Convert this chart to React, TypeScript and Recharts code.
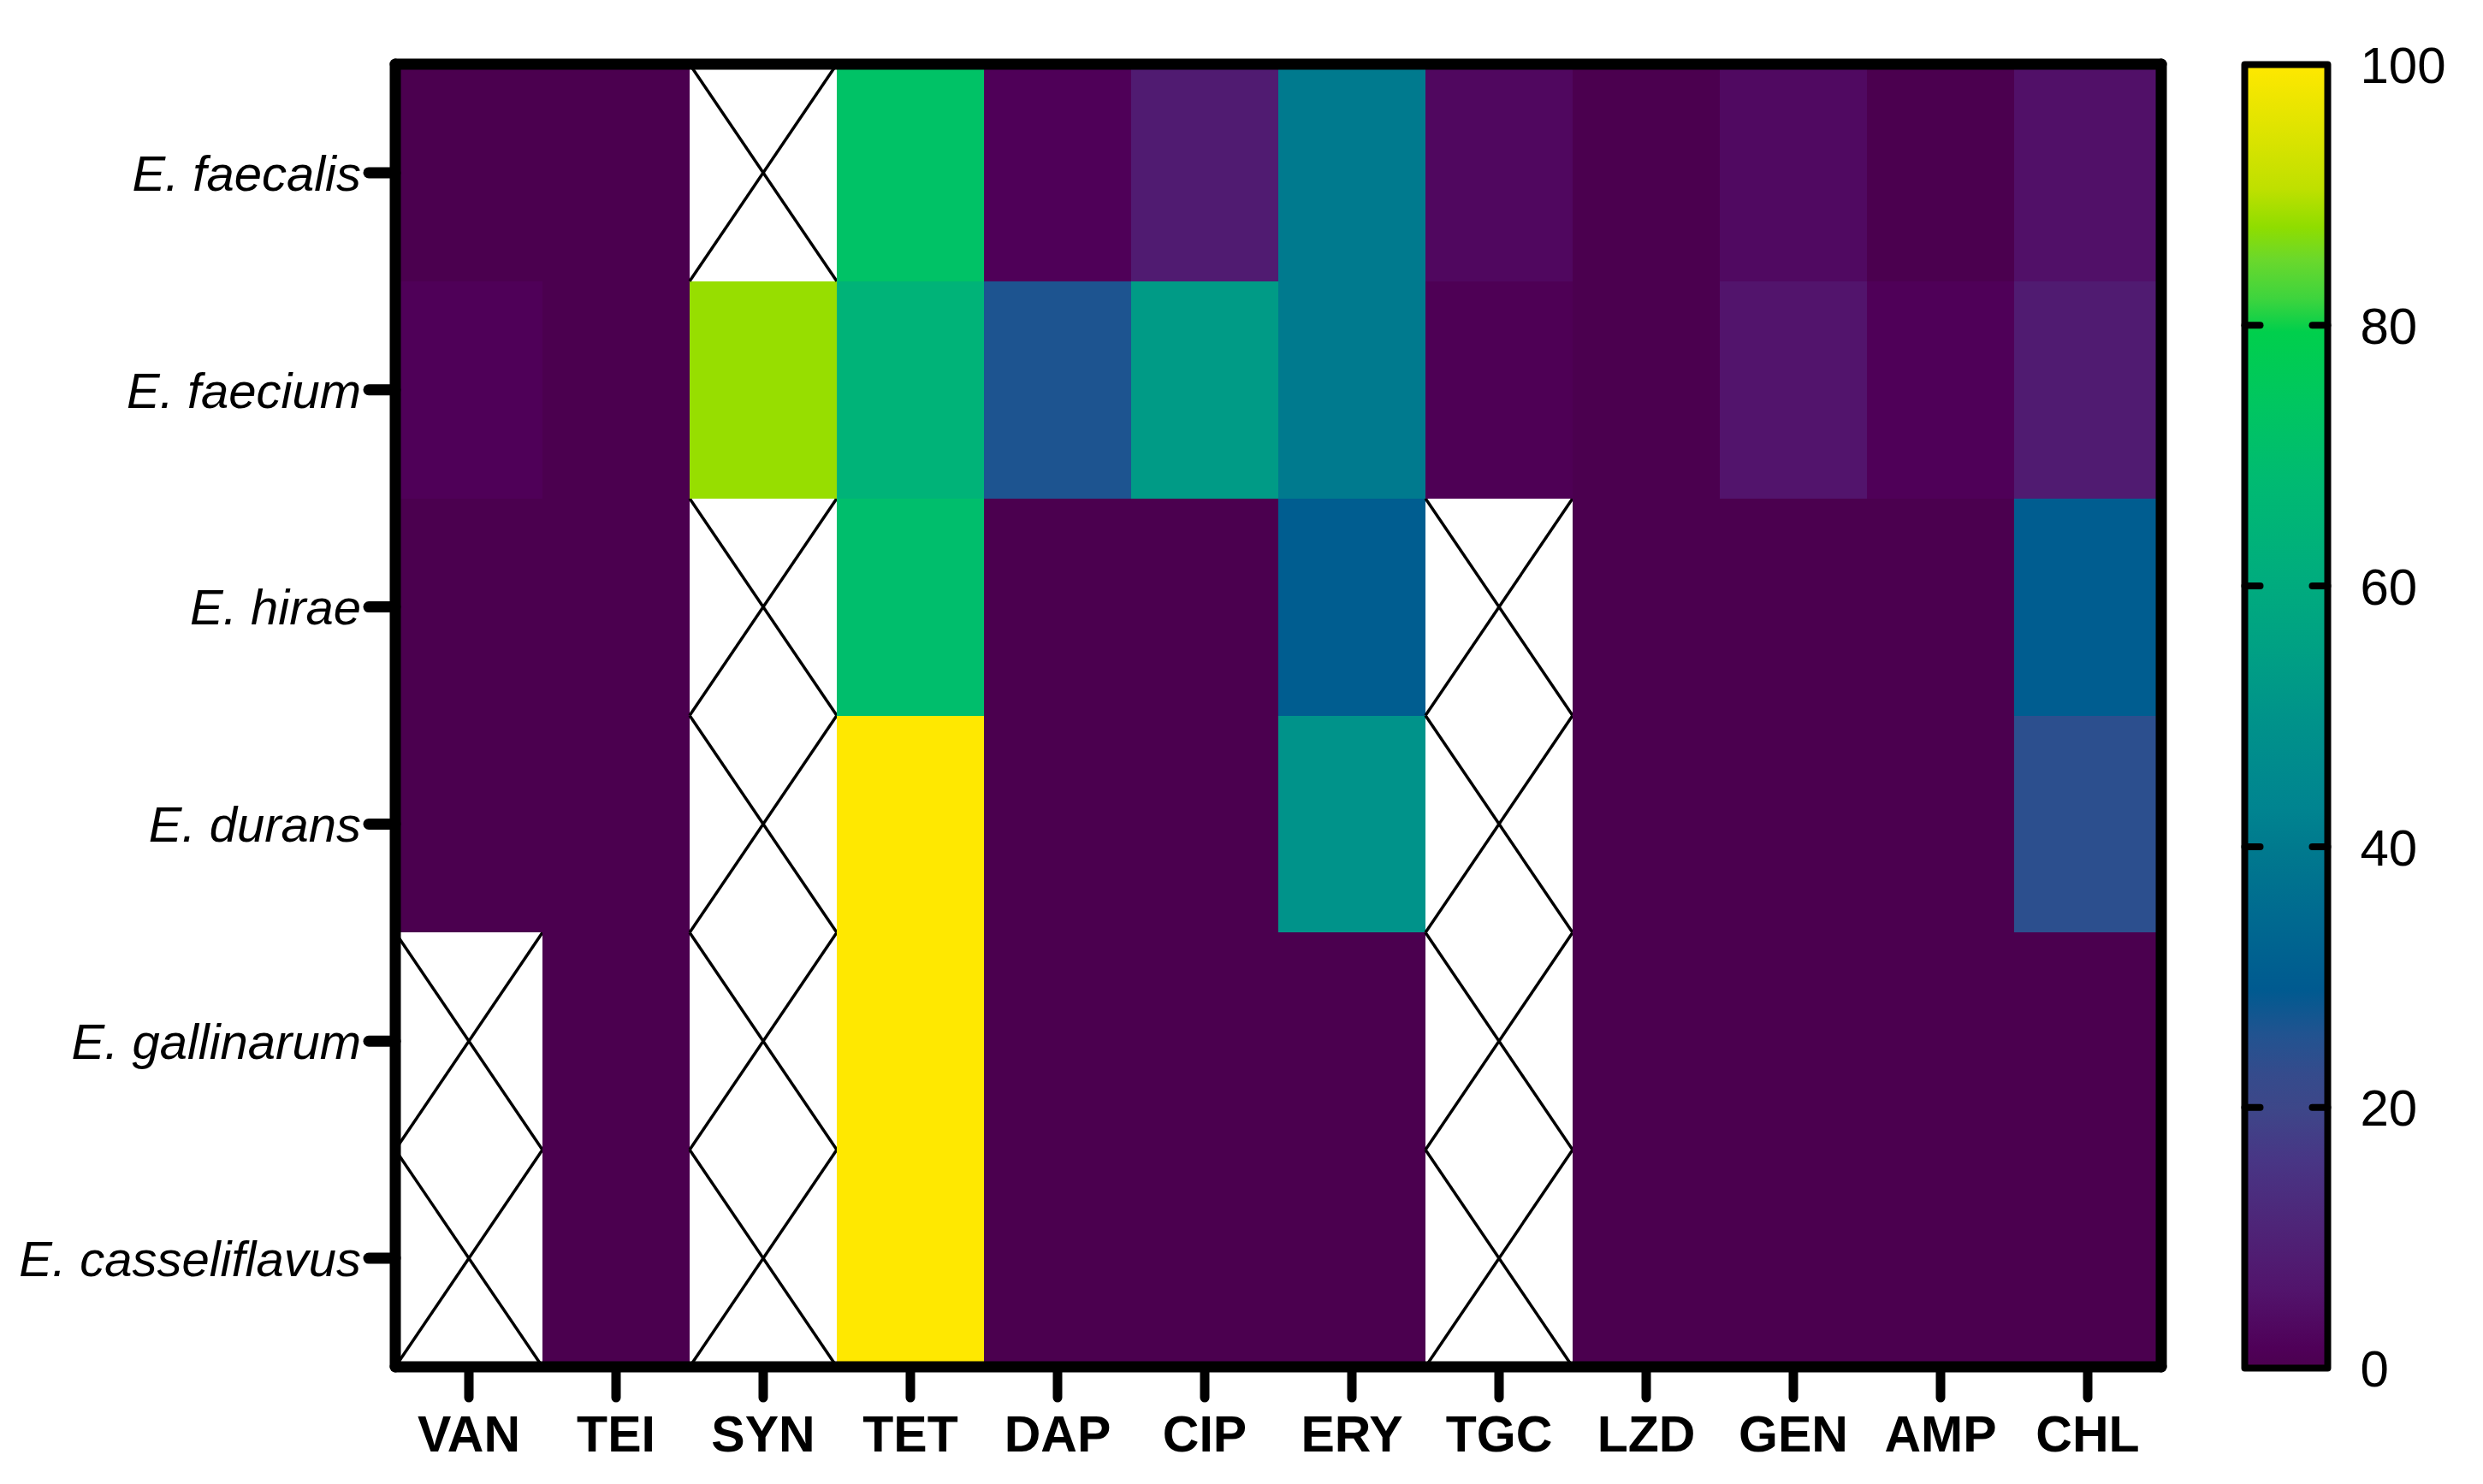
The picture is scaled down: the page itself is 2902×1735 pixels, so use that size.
import { BarChart, Bar, XAxis, YAxis } from 'recharts'

const drugs = ['VAN', 'TEI', 'SYN', 'TET', 'DAP', 'CIP', 'ERY', 'TGC', 'LZD', 'GEN', 'AMP', 'CHL']
const species = ['E. faecalis', 'E. faecium', 'E. hirae', 'E. durans', 'E. gallinarum', 'E. casseliflavus']

// % resistant isolates per drug; null = not tested (crossed cell)
const faecalis = [0, 0, null, 72, 1.5, 8, 40, 3, 0, 3.5, 0, 5]
const faecium = [1.5, 0, 88, 64, 26, 53, 40, 1, 0, 6, 1.5, 8]
const hirae = [0, 0, null, 70, 0, 0, 30, null, 0, 0, 0, 30]
const durans = [0, 0, null, 100, 0, 0, 50, null, 0, 0, 0, 24]
const gallinarum = [null, 0, null, 100, 0, 0, 0, null, 0, 0, 0, 0]
const casseliflavus = [null, 0, null, 100, 0, 0, 0, null, 0, 0, 0, 0]
const values = [faecalis, faecium, hirae, durans, gallinarum, casseliflavus]

const rowTicks = [0.5, 1.5, 2.5, 3.5, 4.5, 5.5]
const scaleTicks = [0, 20, 40, 60, 80, 100]
const scaleMax = 100

const FONT = 'Arial, "Liberation Sans", Helvetica, sans-serif'

// colour map stops (value, colour)
const stops: [number, string][] = [
  [0, '#4b004f'], [1.5, '#4f0058'], [6, '#52146c'], [11, '#4e2578'], [16, '#483685'],
  [20, '#3d4789'], [22.5, '#354b8c'], [25.5, '#225390'], [29, '#005a90'], [35, '#006b90'],
  [40, '#007a8e'], [43, '#008490'], [50, '#00938a'], [55, '#00a084'], [61, '#00ad7d'],
  [68, '#00ba72'], [74, '#00c660'], [79.5, '#00cf4c'], [82, '#3dd43e'], [85, '#6ad82c'],
  [87.5, '#8fdd00'], [90.5, '#bfe000'], [94, '#d8e300'], [100, '#ffe800'],
]

function hex(c: string) {
  return [1, 3, 5].map((i) => parseInt(c.slice(i, i + 2), 16))
}

function heatColor(v: number): string {
  for (let i = 1; i < stops.length; i++) {
    const [v1, c1] = stops[i]
    if (v <= v1) {
      const [v0, c0] = stops[i - 1]
      const t = (v - v0) / (v1 - v0)
      const a = hex(c0)
      const b = hex(c1)
      const m = a.map((x, k) => Math.round(x + (b[k] - x) * t))
      return `rgb(${m[0]},${m[1]},${m[2]})`
    }
  }
  return stops[stops.length - 1][1]
}

const table = drugs.map((drug, j) => {
  const row: any = { drug }
  values.forEach((vals, i) => {
    row['s' + i] = 1
    row['v' + i] = vals[j]
  })
  return row
})

const scaleData = [{ name: 'scale', v: scaleMax }]

const HeatCell = (p: any) => {
  const { x, y, width, height, v } = p
  if (v == null) {
    return (
      <g>
        <rect x={x} y={y} width={width} height={height} fill="#fff" />
        <line x1={x} y1={y} x2={x + width} y2={y + height} stroke="#000" strokeWidth={3.5} />
        <line x1={x + width} y1={y} x2={x} y2={y + height} stroke="#000" strokeWidth={3.5} />
      </g>
    )
  }
  return <rect x={x} y={y} width={width} height={height} fill={heatColor(v)} shapeRendering="crispEdges" />
}

const SpeciesTick = ({ x, y, payload }: any) => (
  <text x={x} y={y} dy="0.36em" textAnchor="end" fontStyle="italic" fontSize={58} fill="#000" fontFamily={FONT}>
    {species[species.length - 1 - Math.floor(payload.value)]}
  </text>
)

const DrugTick = ({ x, y, payload }: any) => (
  <text x={x} y={y} dy="0.71em" textAnchor="middle" fontWeight="bold" fontSize={59} fill="#000" fontFamily={FONT}>
    {payload.value}
  </text>
)

const BAR_W = 97
const ScaleTick = ({ x, y, payload }: any) => {
  const inner = payload.value > 0 && payload.value < scaleMax
  return (
    <g>
      {inner && (
        <>
          <line x1={x - BAR_W} y1={y} x2={x - BAR_W + 18} y2={y} stroke="#000" strokeWidth={8} strokeLinecap="round" />
          <line x1={x - 18} y1={y} x2={x} y2={y} stroke="#000" strokeWidth={8} strokeLinecap="round" />
        </>
      )}
      <text x={x + 38} y={y} dy="0.36em" textAnchor="start" fontSize={60} fill="#000" fontFamily={FONT}>
        {payload.value}
      </text>
    </g>
  )
}

const frameLine = { stroke: '#000', strokeWidth: 13, strokeLinecap: 'round' as const }

export default function App() {
  return (
    <div style={{ position: 'relative', width: 2886, height: 1719, fontFamily: FONT }}>
      <div style={{ position: 'absolute', left: 0, top: 0 }}>
        <BarChart
          width={2600}
          height={1719}
          data={table}
          barCategoryGap={0}
          margin={{ top: 66, left: 54, right: 81, bottom: 29 }}
        >
          {[5, 4, 3, 2, 1, 0].map((i) => (
            <Bar
              key={i}
              dataKey={'s' + i}
              stackId="a"
              isAnimationActive={false}
              shape={(p: any) => <HeatCell {...p} v={p.payload['v' + i]} />}
            />
          ))}
          <XAxis
            dataKey="drug"
            interval={0}
            height={100}
            axisLine={frameLine}
            tickLine={{ stroke: '#000', strokeWidth: 11, strokeLinecap: 'round' }}
            tickSize={36}
            tickMargin={21}
            tick={<DrugTick />}
          />
          <XAxis xAxisId="top" dataKey="drug" orientation="top" height={1} axisLine={frameLine} tick={false} tickLine={false} />
          <YAxis
            type="number"
            domain={[0, 6]}
            ticks={rowTicks}
            width={400}
            axisLine={frameLine}
            tickLine={{ stroke: '#000', strokeWidth: 13, strokeLinecap: 'round' }}
            tickSize={31}
            tickMargin={9}
            tick={<SpeciesTick />}
          />
          <YAxis
            yAxisId="right"
            orientation="right"
            type="number"
            domain={[0, 6]}
            width={1}
            axisLine={frameLine}
            tick={false}
            tickLine={false}
          />
        </BarChart>
      </div>
      <div style={{ position: 'absolute', left: 2592, top: 0 }}>
        <BarChart
          width={294}
          height={1719}
          data={scaleData}
          barCategoryGap={0}
          margin={{ top: 67.5, left: 23.5, right: 172.5, bottom: 127.5 }}
        >
          <defs>
            <linearGradient id="scaleFill" x1="0" y1="0" x2="0" y2="1">
              {[...stops].reverse().map(([v, c]) => (
                <stop key={v} offset={`${100 - (v / scaleMax) * 100}%`} stopColor={c} />
              ))}
            </linearGradient>
          </defs>
          <Bar
            dataKey="v"
            isAnimationActive={false}
            shape={(p: any) => (
              <rect
                x={p.x}
                y={p.y}
                width={p.width}
                height={p.height}
                fill="url(#scaleFill)"
                stroke="#000"
                strokeWidth={8}
                strokeLinejoin="round"
              />
            )}
          />
          <XAxis dataKey="name" hide />
          <YAxis
            orientation="right"
            type="number"
            domain={[0, scaleMax]}
            ticks={scaleTicks}
            width={1}
            axisLine={false}
            tickLine={false}
            tickSize={0}
            tickMargin={0}
            tick={<ScaleTick />}
          />
        </BarChart>
      </div>
    </div>
  )
}
